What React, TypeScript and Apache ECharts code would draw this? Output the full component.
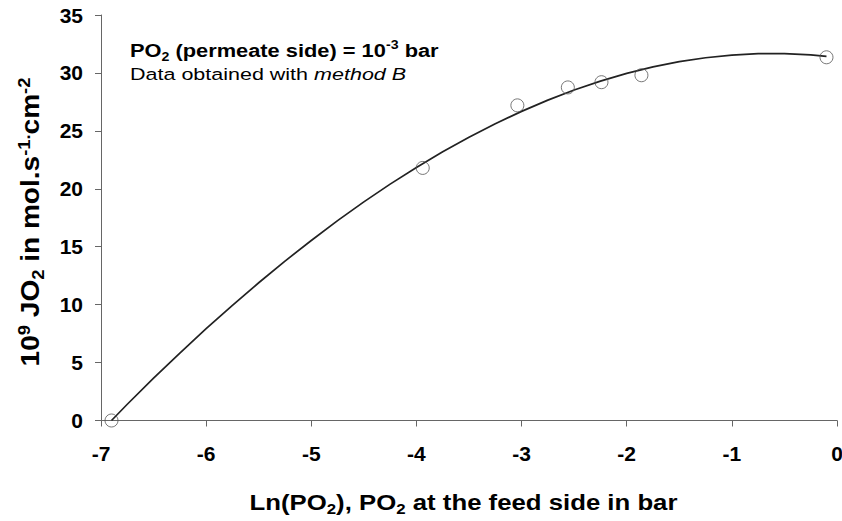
import React, { useEffect, useRef } from "react";
import * as echarts from "echarts";

// Measured points
const measX = [-6.9, -3.94, -3.04, -2.56, -2.24, -1.86, -0.1];
const measY = [0, 21.8, 27.2, 28.75, 29.2, 29.8, 31.35];

// Fitted curve
const fitX = [-6.9, -6.75, -6.5, -6.25, -6, -5.75, -5.5, -5.25, -5, -4.75, -4.5, -4.25, -4, -3.75, -3.5, -3.25, -3, -2.75, -2.5, -2.25, -2, -1.75, -1.5, -1.25, -1, -0.75, -0.5, -0.25, -0.1];
const fitY = [0, 1.4, 3.65, 5.82, 7.92, 9.94, 11.89, 13.76, 15.54, 17.25, 18.87, 20.4, 21.84, 23.19, 24.45, 25.62, 26.68, 27.65, 28.53, 29.29, 29.96, 30.52, 30.97, 31.31, 31.54, 31.66, 31.67, 31.55, 31.43];

const xTicks = [-7, -6, -5, -4, -3, -2, -1, 0];
const yTicks = [0, 5, 10, 15, 20, 25, 30, 35];

const FONT = "'Liberation Sans', Arial, Helvetica, sans-serif";

export default function App() {
  const ref = useRef<HTMLDivElement>(null);
  useEffect(() => {
    if (!ref.current) return;
    const chart = echarts.init(ref.current, undefined, { renderer: "svg" });
    const axisColor = "#666";
    chart.setOption({
      animation: false,
      backgroundColor: "#fff",
      grid: { left: 101, right: 5, top: 15, bottom: 100.5, containLabel: false, outerBoundsMode: "none" },
      xAxis: {
        type: "value",
        min: xTicks[0],
        max: xTicks[xTicks.length - 1],
        interval: 1,
        splitLine: { show: false },
        axisLine: { onZero: false, lineStyle: { color: axisColor, width: 1 } },
        axisTick: { show: true, length: 6, inside: false, lineStyle: { color: axisColor } },
        axisLabel: { color: "#000", fontSize: 21, fontWeight: "bold", fontFamily: FONT, margin: 22 },
      },
      yAxis: {
        type: "value",
        min: yTicks[0],
        max: yTicks[yTicks.length - 1],
        interval: 5,
        splitLine: { show: false },
        axisLine: { show: true, onZero: false, lineStyle: { color: axisColor, width: 1 } },
        axisTick: { show: true, length: 6, inside: false, lineStyle: { color: axisColor } },
        axisLabel: { color: "#000", fontSize: 21, fontWeight: "bold", fontFamily: FONT, margin: 18 },
      },
      series: [
        {
          type: "line",
          data: fitX.map((x, i) => [x, fitY[i]]),
          smooth: false,
          showSymbol: false,
          symbol: "none",
          lineStyle: { color: "#222", width: 1.7, join: "round" },
          z: 2,
        },
        {
          type: "scatter",
          data: measX.map((x, i) => [x, measY[i]]),
          symbol: "circle",
          symbolSize: 13,
          itemStyle: { color: "rgba(0,0,0,0)", borderColor: "#555", borderWidth: 1 },
          z: 3,
        },
      ],
      graphic: [
        {
          type: "text",
          x: 130,
          y: 51,
          scaleX: 1.18,
          style: {
            text: "{b|PO}{bs|2}{b| (permeate side) = 10}{bsup|-3}{b| bar}",
            textAlign: "left",
            textVerticalAlign: "middle",
            align: "left",
            verticalAlign: "middle",
            fill: "#000",
            rich: {
              b: { fontSize: 18.5, fontWeight: "bold", fontFamily: FONT, lineHeight: 24, fill: "#000" },
              bs: { fontSize: 12, fontWeight: "bold", fontFamily: FONT, lineHeight: 14, verticalAlign: "bottom", fill: "#000" },
              bsup: { fontSize: 12, fontWeight: "bold", fontFamily: FONT, lineHeight: 8, verticalAlign: "top", fill: "#000" },
            },
          },
        },
        {
          type: "text",
          x: 130,
          y: 74,
          scaleX: 1.265,
          style: {
            text: "{n|Data obtained with }{i|method B}",
            textAlign: "left",
            textVerticalAlign: "middle",
            align: "left",
            verticalAlign: "middle",
            fill: "#000",
            rich: {
              n: { fontSize: 17, fontFamily: FONT, lineHeight: 22, fill: "#000" },
              i: { fontSize: 17, fontStyle: "italic", fontFamily: FONT, lineHeight: 22, fill: "#000" },
            },
          },
        },
        {
          type: "text",
          x: 463.5,
          y: 502,
          scaleX: 1.12,
          style: {
            text: "{t|Ln(PO}{s|2}{t|), PO}{s|2}{t| at the feed side in bar}",
            textAlign: "center",
            textVerticalAlign: "middle",
            align: "center",
            verticalAlign: "middle",
            fill: "#000",
            rich: {
              t: { fontSize: 23, fontWeight: "bold", fontFamily: FONT, lineHeight: 28, fill: "#000" },
              s: { fontSize: 15, fontWeight: "bold", fontFamily: FONT, lineHeight: 17, verticalAlign: "bottom", fill: "#000" },
            },
          },
        },
        {
          type: "text",
          x: 31,
          y: 222,
          rotation: Math.PI / 2,
          scaleX: 1.22,
          scaleY: 1.09,
          style: {
            text: "{t|10}{sup|9}{t| JO}{s|2}{t| in mol.s}{sup|-1.}{t|cm}{sup|-2}",
            textAlign: "center",
            textVerticalAlign: "middle",
            align: "center",
            verticalAlign: "middle",
            fill: "#000",
            rich: {
              t: { fontSize: 23, fontWeight: "bold", fontFamily: FONT, lineHeight: 28, fill: "#000" },
              s: { fontSize: 15, fontWeight: "bold", fontFamily: FONT, lineHeight: 17, verticalAlign: "bottom", fill: "#000" },
              sup: { fontSize: 15, fontWeight: "bold", fontFamily: FONT, lineHeight: 10, verticalAlign: "top", fill: "#000" },
            },
          },
        },
      ],
    });
    return () => chart.dispose();
  }, []);
  return <div ref={ref} style={{ width: 842, height: 521, position: "absolute", left: 0, top: 0 }} />;
}
